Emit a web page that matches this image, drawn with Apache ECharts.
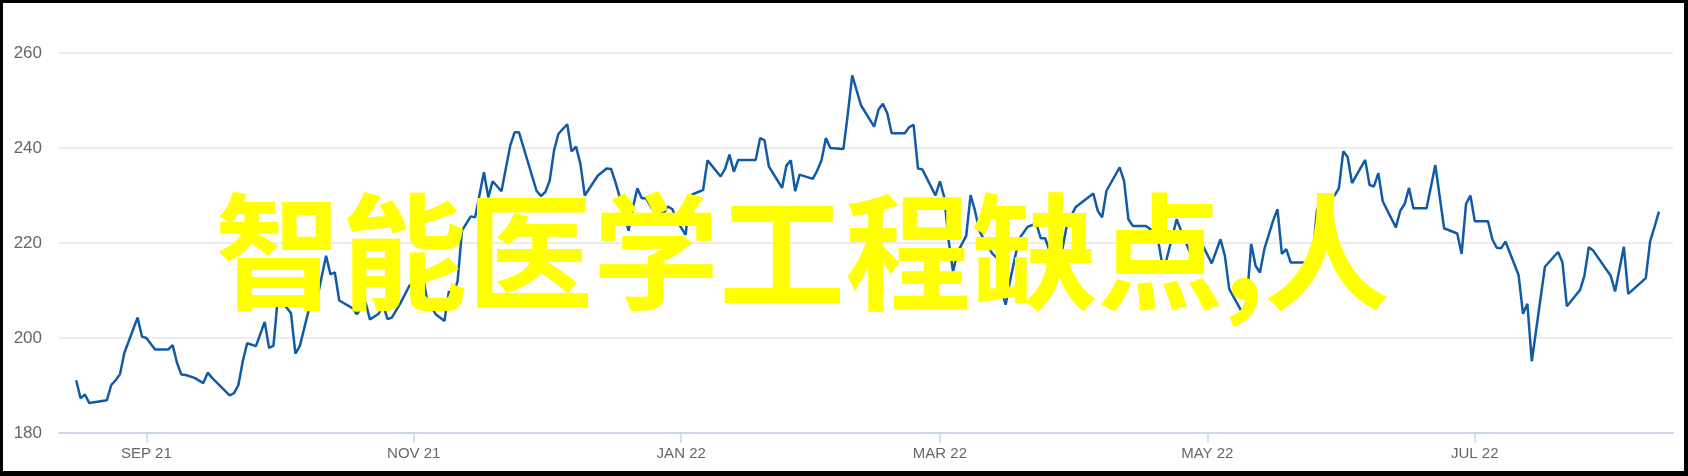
<!DOCTYPE html>
<html>
<head>
<meta charset="utf-8">
<script src="https://cdn.jsdelivr.net/npm/echarts@6/dist/echarts.min.js"></script>
<style>
  html, body { margin: 0; padding: 0; background: #fff; }
  #wrap { position: relative; width: 1688px; height: 476px; }
  #chart { position: absolute; left: 0; top: 0; width: 1688px; height: 476px; }
  #frame { position: absolute; left: 0; top: 0; width: 1688px; height: 476px; box-sizing: border-box;
           border-style: solid; border-color: #000; border-width: 3px 4px 5px 3px; pointer-events: none; }
</style>
</head>
<body>
<div id="wrap"><div id="chart"></div><div id="frame"></div></div>
<script>
const titleText = '智能医学工程缺点,人';

const dates = [
'2021-08-16','2021-08-17','2021-08-18','2021-08-19','2021-08-23','2021-08-24','2021-08-25','2021-08-26','2021-08-27','2021-08-30','2021-08-31',
'2021-09-01','2021-09-03','2021-09-06','2021-09-07','2021-09-08','2021-09-09','2021-09-10','2021-09-12','2021-09-14','2021-09-15','2021-09-16','2021-09-20','2021-09-21','2021-09-22','2021-09-23','2021-09-24','2021-09-26','2021-09-28','2021-09-29','2021-09-30',
'2021-10-01','2021-10-03','2021-10-04','2021-10-05','2021-10-06','2021-10-08','2021-10-10','2021-10-12','2021-10-13','2021-10-14','2021-10-15','2021-10-18','2021-10-19','2021-10-21','2021-10-22','2021-10-24','2021-10-25','2021-10-26','2021-10-27','2021-10-29','2021-10-31',
'2021-11-03','2021-11-04','2021-11-06','2021-11-08','2021-11-09','2021-11-10','2021-11-11','2021-11-12','2021-11-14','2021-11-15','2021-11-17','2021-11-18','2021-11-19','2021-11-21','2021-11-23','2021-11-24','2021-11-25','2021-11-29','2021-11-30',
'2021-12-01','2021-12-02','2021-12-03','2021-12-04','2021-12-06','2021-12-07','2021-12-08','2021-12-09','2021-12-10','2021-12-13','2021-12-15','2021-12-16','2021-12-17','2021-12-18','2021-12-20','2021-12-21','2021-12-22','2021-12-23','2021-12-24','2021-12-25','2021-12-26','2021-12-28','2021-12-29','2021-12-30','2021-12-31',
'2022-01-02','2022-01-03','2022-01-06','2022-01-07','2022-01-10','2022-01-11','2022-01-12','2022-01-13','2022-01-14','2022-01-18','2022-01-19','2022-01-20','2022-01-21','2022-01-24','2022-01-25','2022-01-26','2022-01-27','2022-01-28','2022-01-31',
'2022-02-01','2022-02-02','2022-02-03','2022-02-04','2022-02-07','2022-02-08','2022-02-09','2022-02-11','2022-02-14','2022-02-15','2022-02-16','2022-02-17','2022-02-18','2022-02-21','2022-02-22','2022-02-23','2022-02-24','2022-02-25','2022-02-28',
'2022-03-01','2022-03-02','2022-03-03','2022-03-04','2022-03-05','2022-03-07','2022-03-08','2022-03-09','2022-03-10','2022-03-11','2022-03-13','2022-03-14','2022-03-15','2022-03-16','2022-03-17','2022-03-19','2022-03-21','2022-03-23','2022-03-24','2022-03-25','2022-03-26','2022-03-28','2022-03-30',
'2022-04-01','2022-04-05','2022-04-06','2022-04-07','2022-04-08','2022-04-11','2022-04-12','2022-04-13','2022-04-14','2022-04-17','2022-04-19','2022-04-20','2022-04-21','2022-04-24','2022-04-25','2022-04-28','2022-04-29','2022-04-30',
'2022-05-02','2022-05-04','2022-05-05','2022-05-06','2022-05-09','2022-05-10','2022-05-11','2022-05-12','2022-05-13','2022-05-14','2022-05-16','2022-05-17','2022-05-18','2022-05-19','2022-05-20','2022-05-23','2022-05-24','2022-05-25','2022-05-26','2022-05-27','2022-05-30','2022-05-31',
'2022-06-01','2022-06-02','2022-06-03','2022-06-06','2022-06-07','2022-06-08','2022-06-09','2022-06-10','2022-06-13','2022-06-14','2022-06-15','2022-06-16','2022-06-17','2022-06-20','2022-06-22','2022-06-24','2022-06-27','2022-06-28','2022-06-29','2022-06-30',
'2022-07-01','2022-07-04','2022-07-05','2022-07-06','2022-07-07','2022-07-08','2022-07-11','2022-07-12','2022-07-13','2022-07-14','2022-07-17','2022-07-20','2022-07-21','2022-07-22','2022-07-25','2022-07-26','2022-07-27','2022-07-28',
'2022-08-01','2022-08-02','2022-08-04','2022-08-05','2022-08-09','2022-08-10','2022-08-11','2022-08-12'
];

const prices = [
191.1,187.3,188.1,186.3,186.9,190.1,191.1,192.4,196.9,204.3,200.3,
200.0,197.6,197.6,198.5,194.8,192.3,192.2,191.6,190.5,192.7,191.6,187.9,188.4,190.1,195.1,198.9,198.3,203.4,197.9,198.4,
208.5,206.4,205.2,196.7,198.3,205.7,208.5,217.3,213.4,213.8,207.9,206.3,205.0,207.5,203.9,205.1,207.1,204.0,204.3,207.4,211.0,
213.3,208.2,205.0,203.6,209.8,208.9,212.0,222.6,225.6,225.4,234.9,229.6,233.0,230.9,240.5,243.3,243.3,231.0,229.9,
230.7,233.1,239.5,243.0,245.0,239.3,240.3,236.7,230.0,234.2,235.7,235.6,232.8,229.6,222.6,227.6,231.5,229.4,229.4,227.8,226.4,226.3,227.7,227.1,224.7,
221.7,230.0,231.2,237.4,234.0,235.6,238.6,235.0,237.5,237.5,242.1,241.6,236.1,231.6,236.3,237.4,230.9,234.4,233.5,
235.2,237.4,242.1,240.0,239.8,247.2,255.3,249.0,244.5,248.1,249.3,247.3,243.1,243.1,244.4,244.9,235.7,235.5,230.0,
233.0,229.6,220.5,214.0,218.0,221.5,230.1,226.8,222.6,220.8,217.7,216.9,210.1,207.0,212.0,220.8,223.4,224.1,221.0,221.0,218.4,214.0,224.0,
227.6,230.4,226.8,225.4,231.0,235.9,233.1,225.0,223.6,223.6,222.2,219.4,214.0,225.0,222.6,215.9,216.6,219.4,
215.7,220.8,217.3,210.3,205.3,207.8,219.8,215.2,213.8,218.7,224.7,227.1,217.7,218.7,215.9,215.9,214.7,217.3,226.8,229.6,230.0,231.5,
239.3,238.1,232.6,237.5,232.2,231.9,234.7,228.8,223.3,226.8,228.2,231.6,227.3,227.3,236.4,223.1,222.0,217.7,228.2,230.0,
224.6,224.6,220.8,219.0,218.9,220.3,213.2,205.1,207.2,195.1,215.0,218.1,215.9,206.7,210.1,213.1,219.1,218.4,
213.1,209.8,219.2,209.3,212.6,220.4,223.4,226.6
];

const tickDates = ['2021-09-01','2021-11-01','2022-01-01','2022-03-01','2022-05-01','2022-07-01'];
const monthNames = ['JAN','FEB','MAR','APR','MAY','JUN','JUL','AUG','SEP','OCT','NOV','DEC'];
const yTicks = [180, 200, 220, 240, 260];
const xRange = ['2021-08-12T02:00:00Z', '2022-08-15T05:00:00Z'];

function toUTC(s) {
  const p = s.split('-').map(Number);
  return Date.UTC(p[0], p[1] - 1, p[2]);
}
const seriesData = dates.map((d, i) => [toUTC(d), prices[i]]);
const tickValues = tickDates.map(toUTC);

const chart = echarts.init(document.getElementById('chart'), null, { renderer: 'canvas' });
chart.setOption({
  animation: false,
  backgroundColor: '#ffffff',
  grid: { left: 59, right: 15, top: 53, bottom: 43, containLabel: false },
  xAxis: {
    type: 'value',
    min: Date.parse(xRange[0]),
    max: Date.parse(xRange[1]),
    axisLine: { show: true, lineStyle: { color: '#ccd6eb', width: 2 } },
    axisTick: { show: true, length: 10, customValues: tickValues, lineStyle: { color: '#ccd6eb', width: 1.5 } },
    axisLabel: {
      customValues: tickValues,
      color: '#666666', fontSize: 15, margin: 13,
      fontFamily: '"Liberation Sans", Arial, sans-serif',
      formatter: function (v) {
        const d = new Date(v);
        return monthNames[d.getUTCMonth()] + ' ' + String(d.getUTCFullYear()).slice(2);
      }
    },
    splitLine: { show: false }
  },
  yAxis: {
    type: 'value',
    min: yTicks[0], max: yTicks[yTicks.length - 1], interval: 20,
    axisLine: { show: false },
    axisTick: { show: false },
    axisLabel: { color: '#666666', fontSize: 17, margin: 17, fontFamily: '"Liberation Sans", Arial, sans-serif' },
    splitLine: { show: true, lineStyle: { color: '#e6e6e6', width: 1.5 } }
  },
  series: [{
    type: 'line',
    data: seriesData,
    showSymbol: false,
    symbol: 'none',
    lineStyle: { color: '#115aa6', width: 2.5 },
    z: 2
  }],
  graphic: [{
    type: 'text',
    z: 100,
    x: 215,
    y: 252,
    style: {
      text: titleText,
      fill: '#ffff00',
      fontSize: 126,
      fontWeight: 'bold',
      fontFamily: '"Noto Sans CJK SC", sans-serif',
      align: 'left',
      verticalAlign: 'middle'
    }
  }]
});
</script>
</body>
</html>
